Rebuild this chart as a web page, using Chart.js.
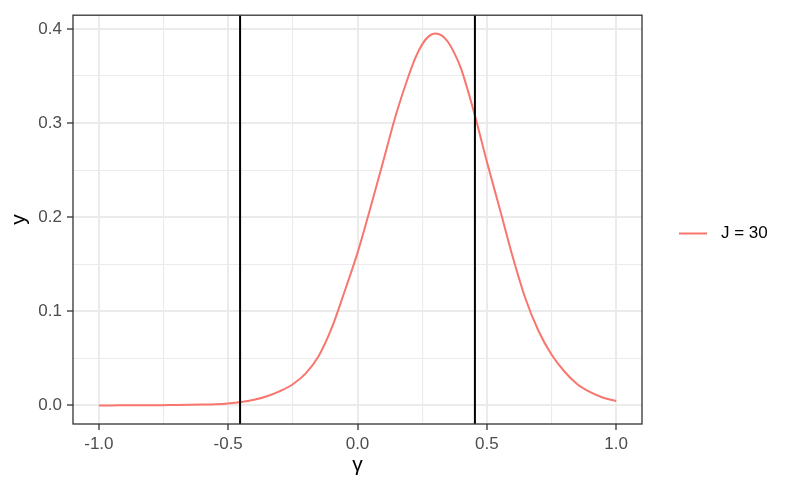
<!DOCTYPE html>
<html>
<head>
<meta charset="utf-8">
<script src="https://cdn.jsdelivr.net/npm/chart.js@4/dist/chart.umd.min.js"></script>
<style>
html,body{margin:0;padding:0;background:#fff;}
#wrap{width:792px;height:489px;}
</style>
</head>
<body>
<div id="wrap"><canvas id="c" width="792" height="489"></canvas></div>
<script>
// ---- data ----
const gammaValues = [-1.00,-0.95,-0.90,-0.85,-0.80,-0.75,-0.70,-0.65,-0.60,-0.55,
                     -0.50,-0.45,-0.40,-0.35,-0.30,-0.25,-0.20,-0.15,-0.10,-0.05,
                      0.00, 0.05, 0.10, 0.15, 0.20, 0.225, 0.25, 0.275, 0.30, 0.325, 0.35, 0.375, 0.40, 0.45,
                      0.50, 0.55, 0.60, 0.65, 0.70, 0.75, 0.80, 0.85, 0.90, 0.95, 1.00];
const densityJ30 = [0.0000,0.0000,0.0001,0.0001,0.0002,0.0003,0.0004,0.0006,0.0009,0.0013,
                    0.0021,0.0035,0.0060,0.0098,0.0152,0.0225,0.0340,0.0525,0.0820,0.1210,
                    0.1620,0.2100,0.2600,0.3100,0.3520,0.3700,0.3835,0.3920,0.3950,0.3930,0.3860,0.3740,0.3580,0.3120,
                    0.2590,0.2090,0.1580,0.1130,0.0790,0.0540,0.0360,0.0225,0.0140,0.0082,0.0047];
const seriesName = 'J = 30';
const vlineGamma = [-0.454, 0.454];

const xMajorTicks = [-1.0, -0.5, 0.0, 0.5, 1.0];
const xTickLabels = ['-1.0', '-0.5', '0.0', '0.5', '1.0'];
const xMinorTicks = [-0.75, -0.25, 0.25, 0.75];
const yMajorTicks = [0.0, 0.1, 0.2, 0.3, 0.4];
const yTickLabels = ['0.0', '0.1', '0.2', '0.3', '0.4'];
const yMinorTicks = [0.05, 0.15, 0.25, 0.35];
const xLimits = [-1.1, 1.1];
const yLimits = [-0.01975, 0.41450];
const xTitle = 'γ';
const yTitle = 'y';

// ---- styling ----
const FONT = "'Liberation Sans', Arial, Helvetica, sans-serif";
const CURVE_COLOR = '#F8766D';

function idx(list, v){ return list.findIndex(t => Math.abs(t - v) < 1e-9); }
function isMajor(list, ctx){ return ctx && ctx.tick && idx(list, ctx.tick.value) >= 0; }

const curvePoints = gammaValues.map((g, i) => ({x: g, y: densityJ30[i]}));
const vlineDatasets = vlineGamma.map(g => ({
  label: 'vline',
  data: [{x: g, y: yLimits[0]}, {x: g, y: yLimits[1]}],
  borderColor: '#000000',
  borderWidth: 2,
  pointRadius: 0,
  fill: false,
  tension: 0
}));

const panelAndLegend = {
  id: 'panelAndLegend',
  afterDraw(chart){
    const {ctx, chartArea: a} = chart;
    ctx.save();
    ctx.strokeStyle = '#333333';
    ctx.lineWidth = 1.3;
    ctx.strokeRect(a.left, a.top, a.right - a.left, a.bottom - a.top);
    // legend
    const ly = 233.5;
    ctx.strokeStyle = CURVE_COLOR;
    ctx.lineWidth = 2;
    ctx.beginPath();
    ctx.moveTo(679, ly);
    ctx.lineTo(707, ly);
    ctx.stroke();
    ctx.fillStyle = '#000000';
    ctx.font = '17px ' + FONT;
    ctx.textBaseline = 'middle';
    ctx.textAlign = 'left';
    ctx.fillText(seriesName, 721, ly);
    ctx.restore();
  }
};

new Chart(document.getElementById('c'), {
  type: 'line',
  data: {
    datasets: [
      ...vlineDatasets,
      {
        label: seriesName,
        data: curvePoints,
        borderColor: CURVE_COLOR,
        borderWidth: 2,
        pointRadius: 0,
        fill: false,
        cubicInterpolationMode: 'monotone'
      }
    ]
  },
  options: {
    responsive: false,
    devicePixelRatio: 1,
    animation: false,
    layout: {padding: {left: 0, top: 11, right: 150, bottom: 0}},
    plugins: {legend: {display: false}, tooltip: {enabled: false}},
    scales: {
      x: {
        type: 'linear',
        min: xLimits[0], max: xLimits[1],
        afterBuildTicks: s => { s.ticks = [...xMajorTicks, ...xMinorTicks].sort((a,b)=>a-b).map(v => ({value: v})); },
        afterFit: s => { s.height = 65; },
        border: {display: false},
        grid: {
          color: '#EBEBEB',
          lineWidth: c => isMajor(xMajorTicks, c) ? 2 : 1.1,
          tickColor: c => isMajor(xMajorTicks, c) ? '#333333' : 'rgba(0,0,0,0)',
          tickLength: 6,
          tickWidth: 1.3
        },
        ticks: {
          autoSkip: false, maxRotation: 0,
          padding: 4,
          color: '#4D4D4D',
          font: {family: FONT, size: 17},
          callback: v => { const i = idx(xMajorTicks, v); return i >= 0 ? xTickLabels[i] : ''; }
        },
        title: {display: true, text: xTitle, color: '#000000', font: {family: FONT, size: 21}, padding: {top: 0, bottom: 11}}
      },
      y: {
        type: 'linear',
        min: yLimits[0], max: yLimits[1],
        afterBuildTicks: s => { s.ticks = [...yMajorTicks, ...yMinorTicks].sort((a,b)=>a-b).map(v => ({value: v})); },
        afterFit: s => { s.width = 73; },
        border: {display: false},
        grid: {
          color: '#EBEBEB',
          lineWidth: c => isMajor(yMajorTicks, c) ? 2 : 1.1,
          tickColor: c => isMajor(yMajorTicks, c) ? '#333333' : 'rgba(0,0,0,0)',
          tickLength: 6,
          tickWidth: 1.3
        },
        ticks: {
          autoSkip: false,
          padding: 5,
          color: '#4D4D4D',
          font: {family: FONT, size: 17},
          callback: v => { const i = idx(yMajorTicks, v); return i >= 0 ? yTickLabels[i] : ''; }
        },
        title: {display: true, text: yTitle, color: '#000000', font: {family: FONT, size: 21}, padding: {top: 7, bottom: 0}}
      }
    }
  },
  plugins: [panelAndLegend]
});
</script>
</body>
</html>
